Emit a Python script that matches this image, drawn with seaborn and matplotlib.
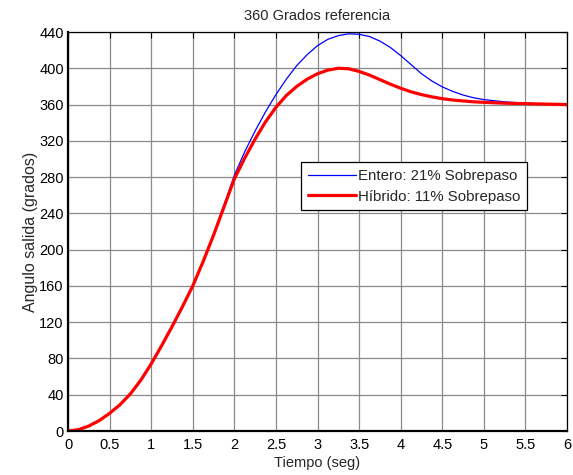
import numpy as np
import pandas as pd
import seaborn as sns
import matplotlib
matplotlib.use('Agg')
import matplotlib.pyplot as plt

# time (s) and output angle (degrees)
tiempo = [0, 0.125, 0.25, 0.375, 0.5, 0.625, 0.75, 0.875, 1.0, 1.125, 1.25, 1.375,
          1.5, 1.625, 1.75, 1.875, 2.0, 2.125, 2.25, 2.375, 2.5, 2.625, 2.75, 2.875,
          3.0, 3.125, 3.25, 3.375, 3.5, 3.625, 3.75, 3.875, 4.0, 4.125, 4.25, 4.375,
          4.5, 4.625, 4.75, 4.875, 5.0, 5.25, 5.5, 5.75, 6.0]
entero = [0, 1.5, 5.5, 11.5, 19.5, 29, 41, 56, 74, 94, 115, 137,
          160, 187, 217, 249, 282, 308, 331, 352, 371, 388, 403, 415,
          425, 432, 436, 438, 437.5, 435, 430, 423, 414, 404, 394, 386,
          379.5, 374.5, 370.5, 367.5, 365.5, 363, 361.5, 360.5, 360]
hibrido = [0, 1.5, 5.5, 11.5, 19.5, 29, 41, 56, 74, 94, 115, 137,
           160, 187, 216, 247, 278, 301, 322, 341, 357, 370, 380, 388,
           394, 398, 400, 399.5, 396.5, 392.5, 387.5, 382.5, 378, 374, 371, 368.5,
           366.5, 365, 364, 363, 362.5, 361.5, 361, 360.5, 360]
etiquetas = ['Entero: 21% Sobrepaso', 'Híbrido: 11% Sobrepaso']

df = pd.DataFrame({'t': tiempo * 2,
                   'ang': entero + hibrido,
                   'serie': [etiquetas[0]] * len(tiempo) + [etiquetas[1]] * len(tiempo)})

sns.set_style('white')
plt.rcParams['font.family'] = ['Liberation Sans', 'DejaVu Sans']
plt.rcParams['font.size'] = 10.5

fig = plt.figure(figsize=(5.73, 4.75), dpi=100)
ax = fig.add_axes([0.1187, 0.0926, 0.8709, 0.84])

sns.lineplot(data=df, x='t', y='ang', hue='serie', size='serie',
             palette=['#0000ff', '#ff0000'], sizes=[0.9, 2.3],
             ax=ax, legend=True)

ax.set_xlim(0, 6)
ax.set_ylim(0, 440)
ax.set_xticks(np.arange(0, 6.01, 0.5))
ax.set_xticklabels(['0', '0.5', '1', '1.5', '2', '2.5', '3', '3.5', '4', '4.5', '5', '5.5', '6'])
ax.set_yticks(np.arange(0, 441, 40))
ax.grid(True, color='#8a8a8a', linewidth=0.9)
ax.set_axisbelow(True)
ax.tick_params(direction='in', length=4, width=0.8, top=True, right=True,
               labelsize=10.5, colors='black')
ax.tick_params(axis='x', pad=5)
ax.tick_params(axis='y', pad=3)
for s in ax.spines.values():
    s.set_color('black')
    s.set_linewidth(0.9)
ax.spines['left'].set_linewidth(1.6)
ax.spines['bottom'].set_linewidth(1.6)

ax.set_title('360 Grados referencia', fontsize=10.5, pad=9)
ax.set_xlabel('Tiempo (seg)', fontsize=10.5, labelpad=3)
ax.set_ylabel('Angulo salida (grados)', fontsize=11.5, labelpad=1)

leg = ax.legend(loc='upper left', bbox_to_anchor=(0.467, 0.674), fontsize=10.8,
                frameon=True, fancybox=False, framealpha=1, edgecolor='black',
                handlelength=3.2, borderpad=0.45, labelspacing=0.45, handletextpad=0.15,
                borderaxespad=0)
leg.get_frame().set_linewidth(0.9)

fig.savefig('out.png', dpi=100)
